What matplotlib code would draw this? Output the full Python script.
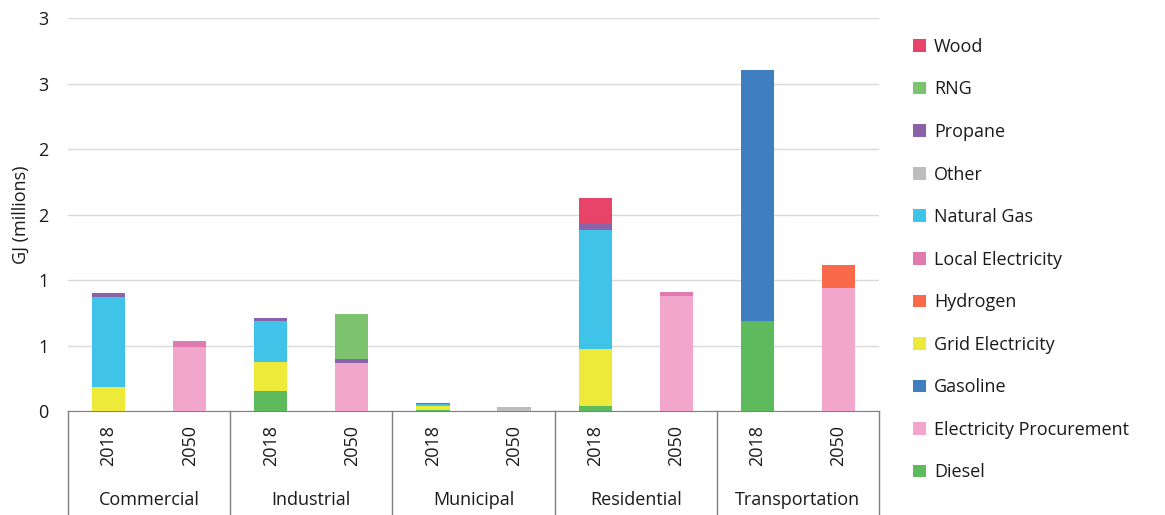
import numpy as np
import matplotlib.pyplot as plt

plt.rcParams['font.family'] = ['Open Sans', 'DejaVu Sans']

sectors = ['Commercial', 'Industrial', 'Municipal', 'Residential', 'Transportation']
years = ['2018', '2050']

# values in GJ (millions), one entry per bar: Com18, Com50, Ind18, Ind50, Mun18, Mun50, Res18, Res50, Tra18, Tra50
diesel = [0, 0, 0.16, 0, 0.01, 0, 0.04, 0, 0.69, 0]
elec_procurement = [0, 0.49, 0, 0.37, 0, 0, 0, 0.88, 0, 0.945]
gasoline = [0, 0, 0, 0, 0, 0, 0, 0, 1.91, 0]
grid_electricity = [0.19, 0, 0.22, 0, 0.03, 0, 0.435, 0, 0, 0]
hydrogen = [0, 0, 0, 0, 0, 0, 0, 0, 0, 0.17]
local_electricity = [0, 0.05, 0, 0, 0, 0, 0, 0.03, 0, 0]
natural_gas = [0.68, 0, 0.31, 0, 0.02, 0, 0.91, 0, 0, 0]
other = [0, 0, 0, 0, 0, 0.035, 0, 0, 0, 0]
propane = [0.035, 0, 0.02, 0.03, 0.006, 0, 0.05, 0, 0, 0]
rng = [0, 0, 0, 0.34, 0, 0, 0, 0, 0, 0]
wood = [0, 0, 0, 0, 0, 0, 0.19, 0, 0, 0]

series = [
    ('Diesel', diesel, '#5dba5d'),
    ('Electricity Procurement', elec_procurement, '#f3a6cb'),
    ('Gasoline', gasoline, '#3f7fbf'),
    ('Grid Electricity', grid_electricity, '#eeea3a'),
    ('Hydrogen', hydrogen, '#fa6a4a'),
    ('Local Electricity', local_electricity, '#e17aae'),
    ('Natural Gas', natural_gas, '#3fc3e8'),
    ('Other', other, '#bdbdbd'),
    ('Propane', propane, '#8a62a8'),
    ('RNG', rng, '#7dc26e'),
    ('Wood', wood, '#e8446a'),
]

fig = plt.figure(figsize=(11.65, 5.15), dpi=100)
ax = fig.add_axes([0.0584, 0.201, 0.6961, 0.764])

x = np.arange(len(sectors) * len(years))
bottom = np.zeros(len(x))
handles = []
for name, vals, color in series:
    vals = np.array(vals, dtype=float)
    b = ax.bar(x, vals, 0.41, bottom=bottom, color=color, label=name, zorder=3)
    bottom += vals
    handles.append(b)

ax.set_xlim(-0.5, len(x) - 0.5)
ax.set_ylim(0, 3)
ax.set_yticks(np.arange(0, 3.01, 0.5))
ax.set_yticklabels(['0', '1', '1', '2', '2', '3', '3'], fontsize=13, color='#1a1a1a')
ax.tick_params(axis='y', length=0, pad=14)
ax.yaxis.grid(True, color='#d9d9d9', linewidth=1)
ax.set_axisbelow(True)
for s in ['top', 'right', 'left']:
    ax.spines[s].set_visible(False)
ax.spines['bottom'].set_color('#7f7f7f')
ax.set_xticks([])
ax.set_ylabel('GJ (millions)', fontsize=13, color='#1a1a1a', labelpad=6)

trans = ax.get_xaxis_transform()
for i in range(len(x)):
    ax.text(x[i], -0.035, years[i % 2], transform=trans, rotation=90,
            ha='center', va='top', fontsize=13, color='#1a1a1a')
for g, name in enumerate(sectors):
    ax.text(2 * g + 0.5, -0.225, name, transform=trans, ha='center', va='center',
            fontsize=13, color='#1a1a1a')
for g in range(len(sectors) + 1):
    ax.plot([2 * g - 0.5, 2 * g - 0.5], [0, -0.27], transform=trans,
            color='#7f7f7f', linewidth=1, clip_on=False)

leg = fig.legend(handles[::-1], [s[0] for s in series][::-1], loc='upper left',
                 bbox_to_anchor=(0.77, 0.958), frameon=False, fontsize=13,
                 handlelength=0.7, handleheight=0.7, handletextpad=0.45,
                 labelspacing=1.36)
for t in leg.get_texts():
    t.set_color('#1a1a1a')

fig.savefig('out.png', dpi=100)
